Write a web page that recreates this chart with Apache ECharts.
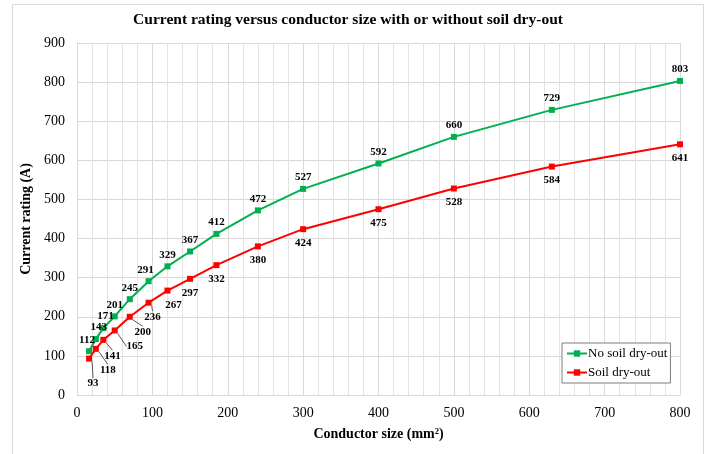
<!DOCTYPE html>
<html>
<head>
<meta charset="utf-8">
<script src="https://cdn.jsdelivr.net/npm/echarts@6/dist/echarts.min.js"></script>
<style>
    html, body { margin: 0; padding: 0; background: #fff; }
    #chart { width: 707px; height: 454px; }
</style>
</head>
<body>
<div id="chart"></div>
<script>
// conductor sizes (mm2)
var sizes = [16, 25, 35, 50, 70, 95, 120, 150, 185, 240, 300, 400, 500, 630, 800];
// current ratings (A)
var noDryOut = [112, 143, 171, 201, 245, 291, 329, 367, 412, 472, 527, 592, 660, 729, 803];
var dryOut = [93, 118, 141, 165, 200, 236, 267, 297, 332, 380, 424, 475, 528, 584, 641];
var seriesNames = ['No soil dry-out', 'Soil dry-out'];

// label nudges (dx, dy) so the crowded labels at small sizes do not overlap
var greenShift = { 0: [-2, 0], 1: [3, 0], 2: [2, 0], 5: [-3, 0] };
var redShift = { 0: [4, 11], 1: [12, 7], 2: [9, 2], 3: [20, 2], 4: [13, 1], 5: [4, 0], 6: [6, 1] };
var redLeader = [0, 1, 2, 3, 4, 5];

var font = '"Liberation Serif", "Times New Roman", serif';

function pairs(vals, leaders) {
    return sizes.map(function (s, i) {
        var item = { value: [s, vals[i]] };
        if (leaders && leaders.indexOf(i) >= 0) {
            item.labelLine = { show: true };
        }
        return item;
    });
}

var myChart = echarts.init(document.getElementById('chart'));
myChart.setOption({
    animation: false,
    backgroundColor: '#fff',
    textStyle: { fontFamily: font },
    graphic: [{
        type: 'rect',
        shape: { x: 12.5, y: 4.5, width: 691, height: 470 },
        style: { fill: 'none', stroke: '#d9d9d9', lineWidth: 1 },
        silent: true
    }],
    title: {
        text: 'Current rating versus conductor size with or without soil dry-out',
        left: 343,
        textAlign: 'center',
        top: 7,
        textStyle: { fontFamily: font, fontSize: 15.5, fontWeight: 'bold', color: '#000' }
    },
    legend: {
        data: seriesNames,
        orient: 'vertical',
        left: 562,
        top: 343,
        padding: [4, 3, 4, 4],
        itemGap: 6,
        itemWidth: 20,
        itemHeight: 8,
        borderColor: '#7f7f7f',
        borderWidth: 1,
        backgroundColor: '#fff',
        textStyle: { fontFamily: font, fontSize: 13, color: '#000', padding: [0, 0, 0, -4] }
    },
    grid: { left: 77, right: 27, top: 43, bottom: 59 },
    xAxis: {
        type: 'value',
        min: 0,
        max: 800,
        interval: 100,
        name: 'Conductor size (mm²)',
        nameLocation: 'middle',
        nameGap: 32,
        nameTextStyle: { fontFamily: font, fontSize: 14, fontWeight: 'bold', color: '#000' },
        axisLine: { show: true, lineStyle: { color: '#d9d9d9' } },
        axisTick: { show: false },
        axisLabel: { fontFamily: font, fontSize: 14, color: '#000', margin: 11 },
        splitLine: { show: true, lineStyle: { color: '#d9d9d9' } },
        minorTick: { show: false, splitNumber: 5 },
        minorSplitLine: { show: true, lineStyle: { color: '#e3e3e3' } }
    },
    yAxis: {
        type: 'value',
        min: 0,
        max: 900,
        interval: 100,
        name: 'Current rating (A)',
        nameLocation: 'middle',
        nameGap: 37,
        nameTextStyle: { fontFamily: font, fontSize: 14, fontWeight: 'bold', color: '#000' },
        axisLine: { show: true, lineStyle: { color: '#d9d9d9' } },
        axisTick: { show: false },
        axisLabel: { fontFamily: font, fontSize: 14, color: '#000', margin: 12 },
        splitLine: { show: true, lineStyle: { color: '#d9d9d9' } }
    },
    series: [
        {
            name: seriesNames[0],
            type: 'line',
            data: pairs(noDryOut),
            color: '#00b050',
            symbol: 'rect',
            symbolSize: 6,
            lineStyle: { width: 2 },
            label: {
                show: true,
                position: 'top',
                distance: 3,
                fontFamily: font,
                fontSize: 11,
                fontWeight: 'bold',
                color: '#000',
                formatter: function (p) { return p.value[1]; }
            },
            labelLayout: function (p) {
                var s = greenShift[p.dataIndex];
                return s ? { dx: s[0], dy: s[1] } : {};
            }
        },
        {
            name: seriesNames[1],
            type: 'line',
            data: pairs(dryOut, redLeader),
            color: '#ff0000',
            symbol: 'rect',
            symbolSize: 6,
            lineStyle: { width: 2 },
            label: {
                show: true,
                position: 'bottom',
                distance: 5.5,
                fontFamily: font,
                fontSize: 11,
                fontWeight: 'bold',
                color: '#000',
                formatter: function (p) { return p.value[1]; }
            },
            labelLine: { show: false, lineStyle: { color: '#595959', width: 1 } },
            labelLayout: function (p) {
                var s = redShift[p.dataIndex];
                return s ? { dx: s[0], dy: s[1] } : {};
            }
        }
    ]
});
window.onresize = function () {
    myChart.resize();
};
</script>
</body>
</html>
